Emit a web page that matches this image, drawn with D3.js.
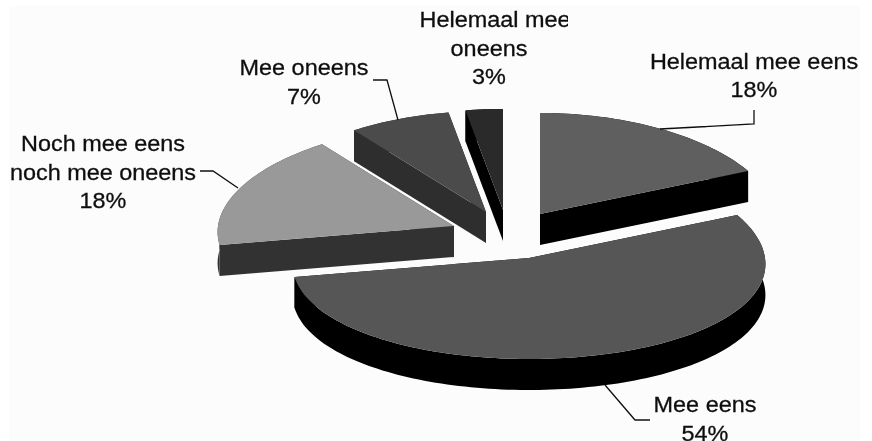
<!DOCTYPE html>
<html><head><meta charset="utf-8">
<script src="https://cdn.jsdelivr.net/npm/d3@7"></script>
<style>html,body{margin:0;padding:0;background:#fff}svg{display:block}</style>
</head><body><div id="chart"></div>
<script>
// Data
const categories = ["Helemaal mee eens","Mee eens","Noch mee eens noch mee oneens","Mee oneens","Helemaal mee oneens"];
const values = [18, 54, 18, 7.3, 2.7];
const percentLabels = ["18%","54%","18%","7%","3%"];
const labelLines = [["Helemaal mee eens"],["Mee eens"],["Noch mee eens","noch mee oneens"],["Mee oneens"],["Helemaal mee","oneens"]];
const faceColors = ["#5e5e5e","#575757","#999999","#4b4b4b","#2c2c2c"];
const wallColors = ["#000000","#000000","#333333","#2f2f2f","#000000"];

// Layout
const W = 872, H = 441;
const rx = 236, ry = 101, depth = 31, persp = 0.06;
const tips = [[540,214],[529,258],[454,226],[486,212],[503,210]];
const labelPos = [[754,68.5],[705,412],[103,151],[304,75],[489,27]];
const firstLineShift = [0,0,0,0,6];
const lineH = 28.7, textScaleX = 1.09, fontSize = 21.5;
const leaders = [
  [[660,129],[754,124],[754,110]],
  [[605,385],[635,420],[650,420]],
  [[238,188],[213,171],[200,171]],
  [[398,120],[387,80],[373,80]]
];
const drawOrder = [3,4,0,2,1];

const svg = d3.select("#chart").append("svg").attr("width",W).attr("height",H);
const defs = svg.append("defs");
defs.append("filter").attr("id","soft")
  .append("feGaussianBlur").attr("stdDeviation",0.45);
defs.append("clipPath").attr("id","topClip").append("rect")
  .attr("x",0).attr("y",0).attr("width",568).attr("height",H);
svg.append("rect").attr("width",W).attr("height",H).attr("fill","#fff");
svg.append("rect").attr("x",9).attr("y",6).attr("width",851).attr("height",435).attr("fill","#fcfcfc");
const root = svg.append("g").attr("filter","url(#soft)");

const arcs = d3.pie().sort(null).value(d=>d)(values);
const project = (tip,a,r,dz) => [
  tip[0] + r*rx*Math.sin(a)*(1 - persp*Math.cos(a)),
  tip[1] - r*ry*Math.cos(a) + dz
];
const line = d3.line();
const arcPts = (tip,d,dz) => {
  const n = Math.max(8, Math.ceil((d.endAngle-d.startAngle)*40));
  const s = d3.scaleLinear().domain([0,n]).range([d.startAngle,d.endAngle]);
  return d3.range(n+1).map(i=>project(tip,s(i),1,dz));
};

const slices = root.selectAll("g.slice").data(drawOrder).join("g").attr("class","slice");
slices.each(function(i){
  const g = d3.select(this), d = arcs[i], tip = tips[i];
  const top = arcPts(tip,d,0), bot = arcPts(tip,d,depth);
  const tip0 = project(tip,0,0,0), tip1 = project(tip,0,0,depth);
  // outer wall and the two radial walls, then the top face
  g.append("path").attr("d",line(top.concat(bot.slice().reverse()))+"Z").attr("fill",wallColors[i]);
  g.append("path").attr("d",line([tip0,top[0],bot[0],tip1])+"Z").attr("fill",wallColors[i]);
  g.append("path").attr("d",line([tip0,top[top.length-1],bot[bot.length-1],tip1])+"Z").attr("fill",wallColors[i]);
  g.append("path").attr("d",line([tip0].concat(top))+"Z").attr("fill",faceColors[i]);
});

root.selectAll("path.leader").data(leaders).join("path").attr("class","leader")
  .attr("d",line).attr("fill","none").attr("stroke","#111").attr("stroke-width",1.3);

categories.forEach((c,i)=>{
  const lines = labelLines[i].concat([percentLabels[i]]);
  root.append("g").attr("clip-path", firstLineShift[i] ? "url(#topClip)" : null)
    .selectAll("text").data(lines).join("text")
    .attr("transform",(t,k)=>`translate(${labelPos[i][0]+(k===0?firstLineShift[i]:0)},${labelPos[i][1]+k*lineH}) scale(${textScaleX},1)`)
    .attr("text-anchor","middle")
    .attr("font-family","'Liberation Sans',Arial,sans-serif")
    .attr("font-size",fontSize).attr("fill","#111")
    .attr("stroke","#111").attr("stroke-width",0.3)
    .text(t=>t);
});
</script></body></html>
